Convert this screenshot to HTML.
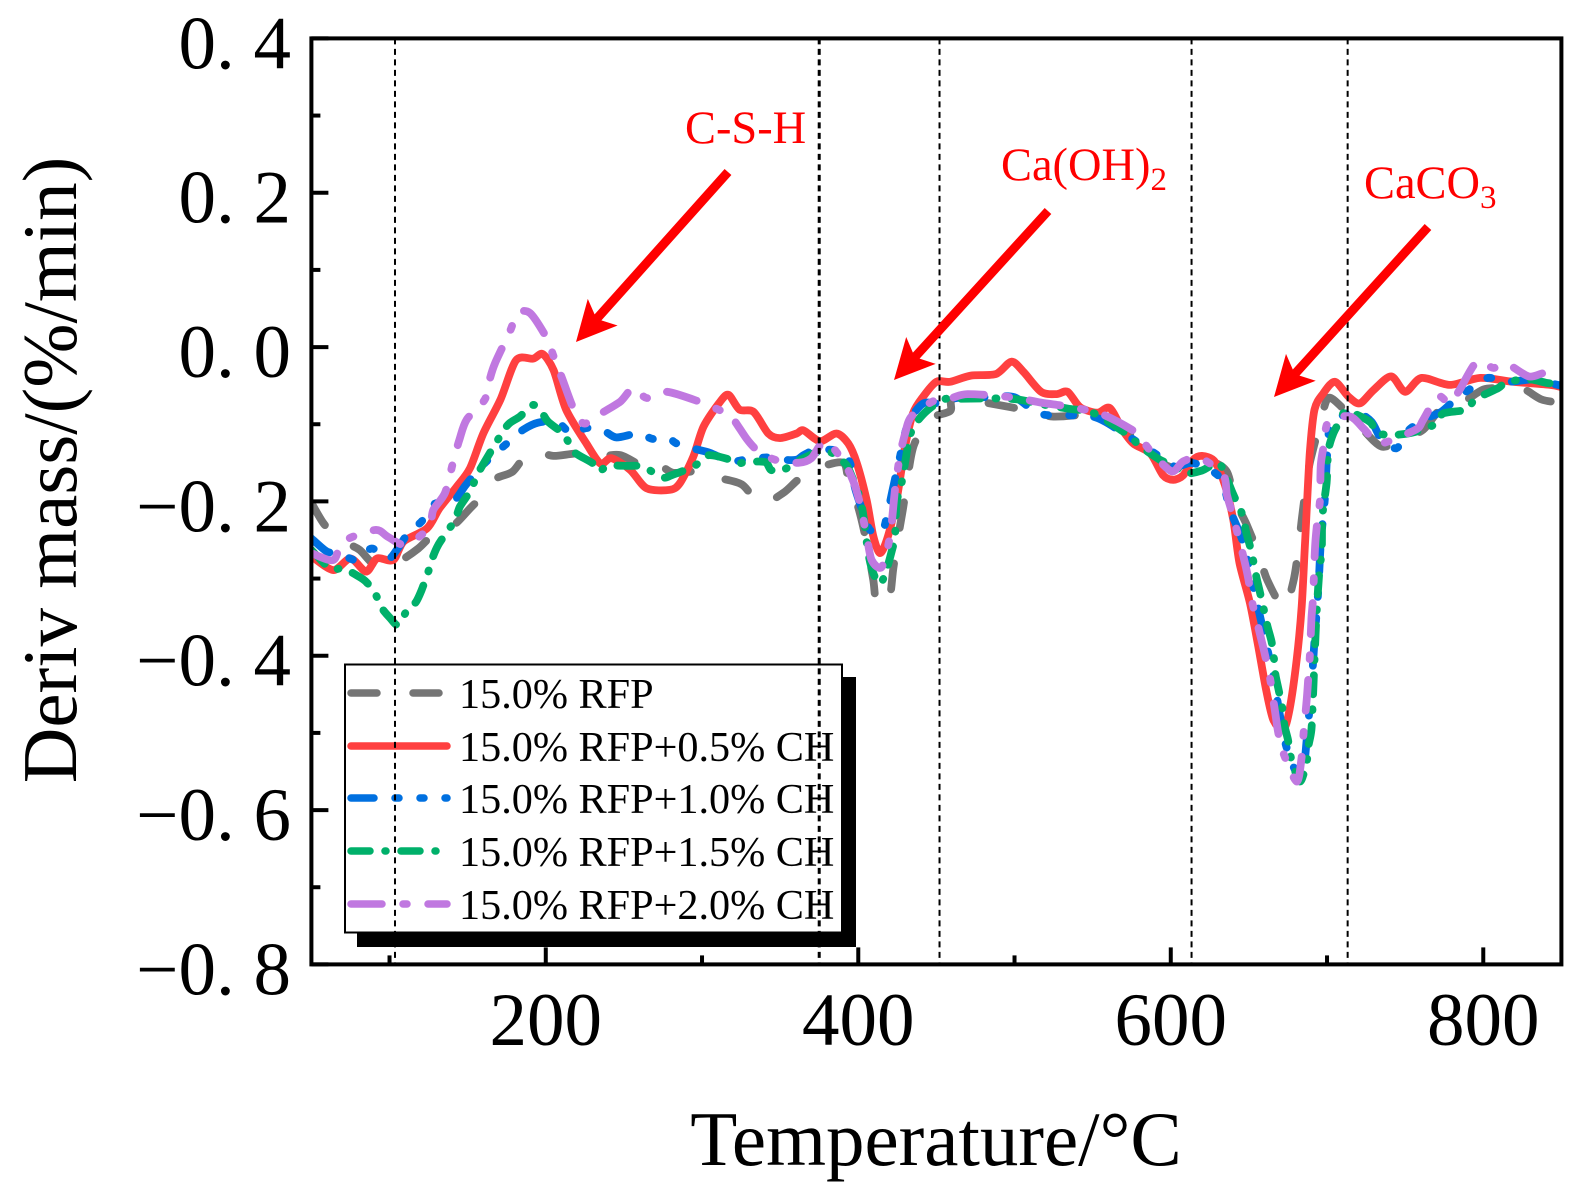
<!DOCTYPE html>
<html lang="en">
<head>
<meta charset="utf-8">
<title>Deriv mass vs Temperature</title>
<style>
html,body{margin:0;padding:0;background:#fff;width:1585px;height:1201px;overflow:hidden}
svg{display:block;font-family:"Liberation Serif",serif}
</style>
</head>
<body>
<svg id="chart" xmlns="http://www.w3.org/2000/svg" width="1585" height="1201" viewBox="0 0 1585 1201">
  <defs><clipPath id="plot-clip"><rect x="311.4" y="38.4" width="1250" height="926"/></clipPath></defs>
  <rect x="0" y="0" width="1585" height="1201" fill="#fff"/>
  <g id="series-layer" clip-path="url(#plot-clip)"></g>

  <g>
    <rect x="357" y="677" width="499" height="270" fill="#000"/>
    <rect x="345" y="664.5" width="497" height="268" fill="#fff" stroke="#000" stroke-width="2"/>
    <g fill="none" stroke-width="7.5" stroke-linecap="round">
      <line x1="351" y1="693" x2="450" y2="693" stroke="#757575" stroke-dasharray="26 36"/>
      <line x1="351" y1="746" x2="447" y2="746" stroke="#ff4040"/>
      <line x1="351" y1="798" x2="447" y2="798" stroke="#0070e0" stroke-dasharray="23 21 4 21 4 21"/>
      <line x1="351" y1="851" x2="436" y2="851" stroke="#00b06a" stroke-dasharray="19 15 1 15"/>
      <line x1="351" y1="904" x2="447" y2="904" stroke="#c078e0" stroke-dasharray="31 21 4 21"/>
    </g>
    <g font-size="42.2" fill="#000">
      <text x="459" y="708">15.0% RFP</text>
      <text x="459" y="761">15.0% RFP+0.5% CH</text>
      <text x="459" y="813">15.0% RFP+1.0% CH</text>
      <text x="459" y="866">15.0% RFP+1.5% CH</text>
      <text x="459" y="919">15.0% RFP+2.0% CH</text>
    </g>
  </g>

  <g id="ref-layer"></g>
  <g id="axis-layer"></g>
  <rect x="311.4" y="38.4" width="1250" height="926" fill="none" stroke="#000" stroke-width="4"/>

  <text x="936" y="1165" font-size="77" text-anchor="middle" fill="#000">Temperature/°C</text>
  <text transform="translate(76 470) rotate(-90)" font-size="77" text-anchor="middle" fill="#000">Deriv mass/(%/min)</text>

  <g id="arrow-layer"></g>
  <g font-size="46.4" fill="#ff0000">
    <text x="685" y="143">C-S-H</text>
    <text x="1001" y="180">Ca(OH)<tspan font-size="33" dy="10">2</tspan></text>
    <text x="1364" y="198">CaCO<tspan font-size="33" dy="10">3</tspan></text>
  </g>
</svg>
<script>
const xTicksMajor = [200, 400, 600, 800];
const xTicksMinor = [100, 300, 500, 700];
const yTicksMajor = [0.4, 0.2, 0, -0.2, -0.4, -0.6, -0.8];
const yTicksMinor = [0.3, 0.1, -0.1, -0.3, -0.5, -0.7];
const xTickLabels = ['200', '400', '600', '800'];
const yTickLabels = ['0. 4', '0. 2', '0. 0', '\u22120. 2', '\u22120. 4', '\u22120. 6', '\u22120. 8'];
const referenceTemps = [103.5, 375, 452, 613.3, 713.2];

const tempsRfp = [50,57.6,64,72.6,81,91.8,105.6,118.4,129,141,152.5,164,168.5,179,190,204.8,219.7,232.5,247.5,260.3,268.8,273,281.6,297.6,309.4,325.4,337.5,352,362.7,376.5,390.4,393.6,397,401,405.4,409.6,412,419.8,422.4,425.6,428.8,432,435.6,444.8,458.7,462,498,524,556,569,585.6,593,602.7,613.4,625,635.7,641,648.5,656,661.8,672.4,678.4,681.6,683.8,686.5,689,695.5,700.8,710,717,723,735,748,761.6,773.3,787,800,811.7,824.5,837.3,850];
const valuesRfp = [-0.202,-0.228,-0.241,-0.254,-0.263,-0.284,-0.278,-0.261,-0.241,-0.231,-0.207,-0.185,-0.170,-0.161,-0.135,-0.141,-0.138,-0.142,-0.140,-0.153,-0.159,-0.153,-0.163,-0.161,-0.169,-0.178,-0.203,-0.189,-0.170,-0.155,-0.150,-0.172,-0.189,-0.215,-0.254,-0.302,-0.334,-0.325,-0.287,-0.245,-0.207,-0.163,-0.127,-0.094,-0.083,-0.067,-0.078,-0.090,-0.087,-0.107,-0.125,-0.148,-0.157,-0.153,-0.148,-0.161,-0.198,-0.230,-0.267,-0.302,-0.338,-0.304,-0.263,-0.224,-0.181,-0.150,-0.099,-0.066,-0.079,-0.094,-0.107,-0.129,-0.120,-0.107,-0.079,-0.071,-0.055,-0.053,-0.053,-0.068,-0.072];

const temps05Ch = [50,64,75,85,92,102.4,109,124,132,143,151.5,160,171,181,192,198,205,213,226,235,242,254,264.5,279.5,286,294.4,301,311.5,317,324,333,342.4,350,360.5,365,375.5,386,393.6,399,405.3,409.6,414,419,424.5,430,435,441.6,450,458.7,472,488,498,505.7,517,527,534,542,553,561,569,576,587,595,601.6,608,614.4,620,628,634.7,640,644,650.7,656,661,665.6,672,676,680.6,683.8,686,689,692,697.6,705,713.6,721,729.6,741,750,760.5,778.7,798,819,842.7,850];
const values05Ch = [-0.271,-0.289,-0.274,-0.291,-0.274,-0.276,-0.252,-0.235,-0.209,-0.181,-0.157,-0.112,-0.068,-0.017,-0.015,-0.009,-0.030,-0.081,-0.125,-0.151,-0.144,-0.159,-0.183,-0.185,-0.176,-0.142,-0.103,-0.071,-0.062,-0.081,-0.084,-0.112,-0.118,-0.112,-0.108,-0.122,-0.112,-0.125,-0.150,-0.198,-0.245,-0.267,-0.245,-0.198,-0.129,-0.086,-0.064,-0.045,-0.045,-0.037,-0.035,-0.019,-0.032,-0.058,-0.061,-0.058,-0.078,-0.085,-0.079,-0.107,-0.125,-0.138,-0.166,-0.172,-0.166,-0.146,-0.141,-0.148,-0.179,-0.224,-0.280,-0.332,-0.388,-0.444,-0.483,-0.496,-0.470,-0.405,-0.336,-0.250,-0.137,-0.081,-0.060,-0.045,-0.064,-0.073,-0.056,-0.038,-0.058,-0.040,-0.049,-0.040,-0.045,-0.049,-0.052];

const temps10Ch = [50,60,68,78.5,88.6,99,104.6,112,120.5,129,140,148.7,156.8,166.4,178,185.6,195,207,216.5,225.7,236,245,259,268.4,278.4,283.8,295.5,305,318,327.5,341.4,352,360.6,365,373.4,388.3,394.7,398,403.2,407.5,415,419.2,422.4,426.7,428.8,433,441.6,452.3,463,480,500,517,550,570,581.4,593,602.7,613,623,632.6,638,646.4,652.8,659,665.6,670,674,680.6,685,687,690,692,694.4,696,698.7,700,702,710.4,719,728.5,735,744.5,751,761.6,773,782,792.5,803,815,832,843,850];
const values10Ch = [-0.248,-0.265,-0.267,-0.276,-0.261,-0.274,-0.263,-0.241,-0.226,-0.203,-0.202,-0.179,-0.159,-0.140,-0.120,-0.107,-0.098,-0.097,-0.112,-0.105,-0.107,-0.117,-0.112,-0.119,-0.118,-0.125,-0.132,-0.137,-0.148,-0.146,-0.143,-0.146,-0.146,-0.140,-0.133,-0.135,-0.150,-0.183,-0.215,-0.237,-0.241,-0.211,-0.181,-0.142,-0.120,-0.094,-0.073,-0.073,-0.066,-0.065,-0.065,-0.087,-0.090,-0.112,-0.127,-0.142,-0.155,-0.150,-0.157,-0.172,-0.211,-0.254,-0.310,-0.366,-0.427,-0.479,-0.518,-0.552,-0.544,-0.509,-0.440,-0.380,-0.315,-0.254,-0.194,-0.142,-0.103,-0.088,-0.084,-0.097,-0.120,-0.131,-0.110,-0.094,-0.084,-0.068,-0.053,-0.040,-0.045,-0.042,-0.047,-0.050];

const temps15Ch = [50,62,70.4,80,85.4,90.7,95,100.3,105.6,112,116.7,120.5,124.8,127.4,131,137.6,142,145,151.5,155,159,171.8,176.6,183.5,192,197.8,201.6,211,215,218.7,230.4,234,240,253,259,265,275,280.6,294.4,299.3,305,318,322.6,328.6,340.3,344,350,357.4,365,375.5,383,386,392.5,396.8,400,403,406.4,409.6,414,418,421.3,423.5,424.5,427.7,431,432.6,436,443.7,454.4,465,498,517,535,550,570,575,581.4,593,602.7,609,620,630.4,635.7,640,646.4,648,650.7,653.3,655,657,660.3,662,664.5,666.3,667,669,671.6,672.7,675,677,682.7,687,688,690,691,692,693.3,695,696.6,697,699.7,700.8,704,708,712.6,727.5,731.7,742.4,756.3,770,774.4,789.3,794.7,809.6,815,830,843,850];
const values15Ch = [-0.263,-0.287,-0.287,-0.297,-0.305,-0.319,-0.338,-0.351,-0.360,-0.338,-0.331,-0.315,-0.291,-0.274,-0.257,-0.237,-0.224,-0.207,-0.187,-0.171,-0.155,-0.112,-0.099,-0.090,-0.075,-0.086,-0.097,-0.112,-0.125,-0.137,-0.151,-0.161,-0.154,-0.154,-0.154,-0.158,-0.169,-0.166,-0.155,-0.147,-0.140,-0.146,-0.151,-0.149,-0.149,-0.159,-0.161,-0.153,-0.144,-0.135,-0.137,-0.142,-0.153,-0.172,-0.189,-0.215,-0.267,-0.293,-0.307,-0.289,-0.265,-0.245,-0.202,-0.176,-0.137,-0.118,-0.101,-0.083,-0.068,-0.067,-0.067,-0.074,-0.080,-0.085,-0.110,-0.118,-0.130,-0.146,-0.155,-0.164,-0.160,-0.150,-0.170,-0.191,-0.220,-0.238,-0.258,-0.282,-0.300,-0.317,-0.347,-0.363,-0.382,-0.408,-0.425,-0.444,-0.470,-0.490,-0.509,-0.533,-0.563,-0.537,-0.518,-0.496,-0.453,-0.405,-0.345,-0.293,-0.263,-0.220,-0.176,-0.135,-0.112,-0.097,-0.083,-0.097,-0.111,-0.114,-0.110,-0.099,-0.086,-0.081,-0.068,-0.053,-0.045,-0.042,-0.047,-0.040];

const temps20Ch = [50,64,70.4,90.7,99,110,125,128,135.5,140.8,144.7,149.4,161,164,167.5,177,182,190,200.5,205,210,217.6,224.4,233.6,247.5,256,264.6,277.4,298.7,310.4,318,328.6,336,346.7,361.6,370,378.7,390.4,396.8,401,405.4,408.5,415,420.3,423.5,426.7,430,434,448,459.7,470,498,517,537,556,575,580,588,600.6,608,619,633.6,636,640,646.4,649.6,651.8,657,660.3,663.5,666.7,668.8,672,680.6,683.8,685,687,688,689,690,691,691.6,692.5,693.8,695.5,696,698,701,714.7,724,733,749,758.4,761.6,771,778.7,785,796,806.4,815,829,838.4,843,850];
const values20Ch = [-0.267,-0.276,-0.252,-0.237,-0.246,-0.256,-0.235,-0.211,-0.189,-0.148,-0.120,-0.094,-0.068,-0.043,-0.021,0.020,0.044,0.044,0.012,-0.012,-0.038,-0.079,-0.099,-0.088,-0.071,-0.053,-0.066,-0.058,-0.071,-0.081,-0.088,-0.119,-0.135,-0.146,-0.150,-0.144,-0.122,-0.148,-0.174,-0.202,-0.245,-0.276,-0.285,-0.245,-0.185,-0.140,-0.112,-0.090,-0.070,-0.066,-0.061,-0.065,-0.072,-0.078,-0.087,-0.107,-0.116,-0.137,-0.161,-0.148,-0.144,-0.166,-0.192,-0.220,-0.271,-0.300,-0.328,-0.371,-0.399,-0.429,-0.472,-0.500,-0.526,-0.563,-0.531,-0.500,-0.457,-0.429,-0.401,-0.353,-0.327,-0.297,-0.254,-0.226,-0.198,-0.153,-0.127,-0.096,-0.090,-0.107,-0.125,-0.114,-0.105,-0.094,-0.064,-0.073,-0.055,-0.019,-0.027,-0.022,-0.038,-0.034,-0.038,-0.040];

const seriesKeys = ['rfp', 'ch05', 'ch10', 'ch15', 'ch20'];
const seriesTemps = [tempsRfp, temps05Ch, temps10Ch, temps15Ch, temps20Ch];
const seriesValues = [valuesRfp, values05Ch, values10Ch, values15Ch, values20Ch];
const seriesColors = ['#757575', '#ff4040', '#0070e0', '#00b06a', '#c078e0'];
const seriesDash = ['26 36', '', '23 21 4 21 4 21', '19 15 1 15', '31 21 4 21'];

const NS = 'http://www.w3.org/2000/svg';
const xMin = 50, xMax = 850, yMin = -0.8, yMax = 0.4;
const left = 311.4, right = 1561.4, top0 = 38.4, bottom = 964.4;
function xScale(t) { return left + (t - xMin) / (xMax - xMin) * (right - left); }
function yScale(v) { return bottom - (v - yMin) / (yMax - yMin) * (bottom - top0); }
function make(tag, attrs, parent) {
  const el = document.createElementNS(NS, tag);
  for (const k in attrs) el.setAttribute(k, attrs[k]);
  parent.appendChild(el);
  return el;
}
function smoothPath(pts) {
  let d = 'M' + pts[0][0].toFixed(1) + ' ' + pts[0][1].toFixed(1);
  const k = 0.14;
  for (let i = 0; i < pts.length - 1; i++) {
    const p0 = pts[Math.max(0, i - 1)], p1 = pts[i], p2 = pts[i + 1], p3 = pts[Math.min(pts.length - 1, i + 2)];
    const c1x = p1[0] + (p2[0] - p0[0]) * k, c1y = p1[1] + (p2[1] - p0[1]) * k;
    const c2x = p2[0] - (p3[0] - p1[0]) * k, c2y = p2[1] - (p3[1] - p1[1]) * k;
    d += 'C' + c1x.toFixed(1) + ' ' + c1y.toFixed(1) + ' ' + c2x.toFixed(1) + ' ' + c2y.toFixed(1) + ' ' + p2[0].toFixed(1) + ' ' + p2[1].toFixed(1);
  }
  return d;
}

const seriesLayer = document.getElementById('series-layer');
seriesKeys.forEach(function (key, i) {
  const pts = seriesTemps[i].map(function (t, j) {
    return [xScale(t), yScale(seriesValues[i][j])];
  });
  const line = make('path', {
    d: smoothPath(pts), fill: 'none', stroke: seriesColors[i], 'stroke-width': 7.8,
    'stroke-linecap': seriesDash[i] ? 'round' : 'butt', 'stroke-linejoin': 'round'
  }, seriesLayer);
  if (seriesDash[i]) line.setAttribute('stroke-dasharray', seriesDash[i]);
  
  
});

const refLayer = document.getElementById('ref-layer');
referenceTemps.forEach(function (t, i) {
  const ln = make('line', {
    x1: xScale(t), x2: xScale(t), y1: top0, y2: bottom, stroke: '#000',
    'stroke-width': i === 1 ? 3 : 2, 'stroke-dasharray': '6 4.5'
  }, refLayer);
  
  
});

const axisLayer = document.getElementById('axis-layer');
xTicksMajor.forEach(function (t, i) {
  const tk = make('line', { x1: xScale(t), x2: xScale(t), y1: bottom, y2: bottom - 17, stroke: '#000', 'stroke-width': 4 }, axisLayer);
  
  
  const lb = make('text', { x: xScale(t), y: 1045, 'font-size': 75, 'text-anchor': 'middle', fill: '#000' }, axisLayer);
  lb.textContent = xTickLabels[i];
  
  
});
xTicksMinor.forEach(function (t) {
  const tk = make('line', { x1: xScale(t), x2: xScale(t), y1: bottom, y2: bottom - 9, stroke: '#000', 'stroke-width': 4 }, axisLayer);
  
  
});
yTicksMajor.forEach(function (v, i) {
  const tk = make('line', { x1: left, x2: left + 17, y1: yScale(v), y2: yScale(v), stroke: '#000', 'stroke-width': 4 }, axisLayer);
  
  
  const lb = make('text', { x: 291, y: yScale(v) + 30, 'font-size': 75, 'text-anchor': 'end', fill: '#000' }, axisLayer);
  lb.setAttribute('xml:space', 'preserve');
  lb.textContent = yTickLabels[i];
  
  
});
yTicksMinor.forEach(function (v) {
  const tk = make('line', { x1: left, x2: left + 9, y1: yScale(v), y2: yScale(v), stroke: '#000', 'stroke-width': 4 }, axisLayer);
  
  
});

const arrowLayer = document.getElementById('arrow-layer');
function drawArrow(x1, y1, x2, y2, name) {
  const dx = x2 - x1, dy = y2 - y1, len = Math.hypot(dx, dy);
  const ux = dx / len, uy = dy / len, px = -uy, py = ux;
  const at = function (along, side) {
    return (x2 - ux * along + px * side).toFixed(1) + ',' + (y2 - uy * along + py * side).toFixed(1);
  };
  const shape = make('polygon', {
    points: [at(0, 0), at(40, 20), at(33, 4.5), at(len, 4.5), at(len, -4.5), at(33, -4.5), at(40, -20)].join(' '),
    fill: '#ff0000'
  }, arrowLayer);
  
  
}
drawArrow(728, 172, 576, 342, 'csh-arrow');
drawArrow(1048, 211, 894, 380, 'caoh2-arrow');
drawArrow(1428, 227, 1274, 397, 'caco3-arrow');
</script>
</body>
</html>
